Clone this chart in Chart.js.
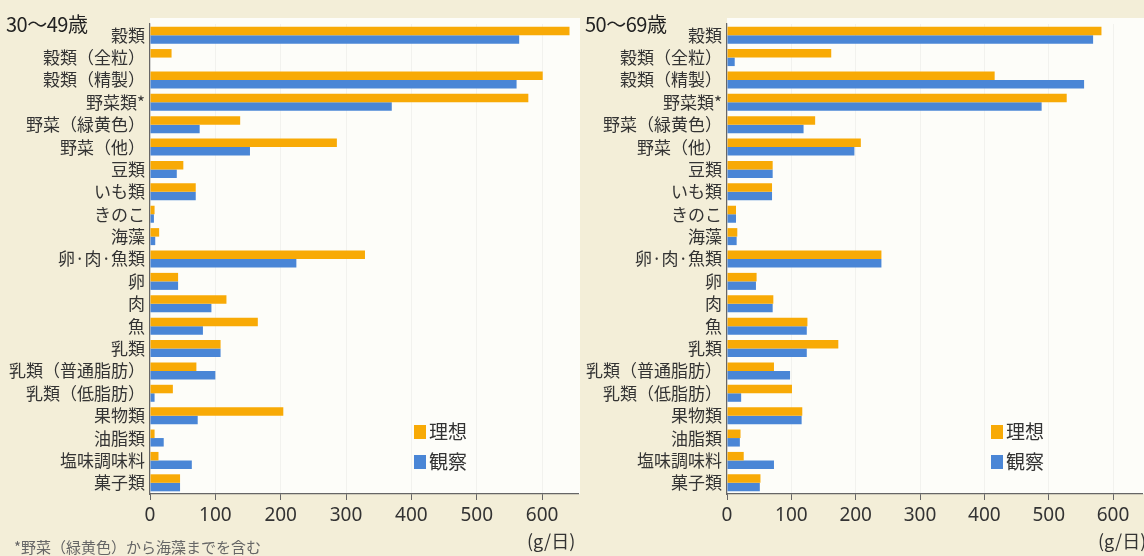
<!DOCTYPE html>
<html>
<head>
<meta charset="utf-8">
<script src="https://cdn.jsdelivr.net/npm/chart.js@4.4.1/dist/chart.umd.min.js"></script>
<style>
  body { margin: 0; background: #f3eed8; width: 1144px; height: 556px; overflow: hidden; position: relative; }
  .box { position: absolute; top: 0; height: 556px; }
  .title { position: absolute; top: 9px; font: 20px "Noto Sans CJK JP", "Noto Sans", sans-serif; color: #222; letter-spacing: -0.5px; }
  .note { position: absolute; left: 14px; top: 536px; font: 15px "Noto Sans CJK JP", sans-serif; color: #666; }
</style>
</head>
<body>
<div class="box" style="left:0;width:580px"><canvas id="chartA"></canvas></div>
<div class="box" style="left:577px;width:567px"><canvas id="chartB"></canvas></div>
<div class="title" style="left:6px">30〜49歳</div>
<div class="title" style="left:585px">50〜69歳</div>
<div class="note">*野菜（緑黄色）から海藻までを含む</div>
<script>
// food groups (same for both age groups)
const categories = ['穀類', '穀類（全粒）', '穀類（精製）', '野菜類*', '野菜（緑黄色）', '野菜（他）', '豆類', 'いも類',
  'きのこ', '海藻', '卵·肉·魚類', '卵', '肉', '魚', '乳類', '乳類（普通脂肪）', '乳類（低脂肪）', '果物類', '油脂類',
  '塩味調味料', '菓子類'];

// 30~49歳 (g/日)
const ideal3049 = [642, 33, 601, 579, 138, 286, 51, 70, 7, 14, 329, 43, 117, 165, 108, 71, 35, 204, 7, 13, 46];
const actual3049 = [565, 0, 561, 370, 76, 153, 41, 70, 6, 8, 224, 43, 94, 81, 108, 100, 7, 73, 21, 64, 46];

// 50~69歳 (g/日)
const ideal5069 = [582, 162, 416, 528, 137, 208, 71, 70, 14, 16, 240, 46, 72, 125, 173, 73, 101, 117, 21, 26, 52];
const actual5069 = [569, 12, 555, 489, 119, 198, 71, 70, 14, 15, 240, 45, 71, 124, 124, 98, 22, 116, 20, 73, 51];

const seriesNames = ['理想', '観察'];
const xTicks = [0, 100, 200, 300, 400, 500, 600];
const unitLabel = '(g/日)';

const orange = '#f8aa06';
const blue = '#4a86d6';
const jpFont = '"Noto Sans CJK JP", "Noto Sans", sans-serif';

// white plot area behind the bars
const plotBg = {
  id: 'plotBg',
  beforeDraw(chart) {
    const a = chart.chartArea;
    const ctx = chart.ctx;
    ctx.save();
    ctx.fillStyle = '#fdfdf9';
    ctx.fillRect(a.left, a.top - 6, chart.width - a.left, a.bottom - a.top + 6);
    ctx.restore();
  }
};

// legend inside the plot + unit under the axis
const extras = {
  id: 'extras',
  afterDraw(chart) {
    const ctx = chart.ctx;
    const a = chart.chartArea;
    ctx.save();
    ctx.font = '19px ' + jpFont;
    ctx.textBaseline = 'middle';
    chart.data.datasets.forEach((ds, i) => {
      const y = 432 + i * 30;
      ctx.fillStyle = ds.backgroundColor;
      ctx.fillRect(a.left + 264, y - 7, 12, 14);
      ctx.fillStyle = '#333';
      ctx.fillText(ds.label, a.left + 279, y);
    });
    const x = chart.scales.x.getPixelForValue(600) + 9;
    ctx.font = '18px ' + jpFont;
    ctx.textAlign = 'center';
    ctx.fillText(unitLabel, x, 541);
    ctx.restore();
  }
};

function makeChart(id, ideal, actual, maxX) {
  let ctx = document.getElementById(id).getContext('2d');
  return new Chart(ctx, {
    type: 'bar',
    data: {
      labels: categories,
      datasets: [{
        label: seriesNames[0],
        data: ideal,
        backgroundColor: orange
      }, {
        label: seriesNames[1],
        data: actual,
        backgroundColor: blue
      }]
    },
    options: {
      indexAxis: 'y',
      responsive: true,
      maintainAspectRatio: false,
      animation: false,
      categoryPercentage: 0.76,
      barPercentage: 1.0,
      layout: { padding: { top: 24, right: 2, bottom: 0, left: 0 } },
      plugins: { legend: { display: false }, tooltip: { enabled: false } },
      scales: {
        y: {
          grid: { display: false, drawTicks: false },
          border: { color: '#666', width: 1.2 },
          ticks: { color: '#333', font: { family: jpFont, size: 17 }, padding: 5, autoSkip: false },
          afterFit(scale) { scale.width = 150; }
        },
        x: {
          min: 0,
          max: maxX,
          grid: { color: 'rgba(0,0,0,0.045)', tickLength: 6, tickColor: '#666' },
          border: { color: '#666', width: 1.2 },
          ticks: { color: '#333', font: { family: '"Noto Sans", sans-serif', size: 19 }, padding: 4, maxRotation: 0 },
          afterBuildTicks(scale) { scale.ticks = xTicks.map(v => ({ value: v })); },
          afterFit(scale) { scale.height = 62; }
        }
      }
    },
    plugins: [plotBg, extras]
  });
}

makeChart('chartA', ideal3049, actual3049, 655);
makeChart('chartB', ideal5069, actual5069, 645);
</script>
</body>
</html>
